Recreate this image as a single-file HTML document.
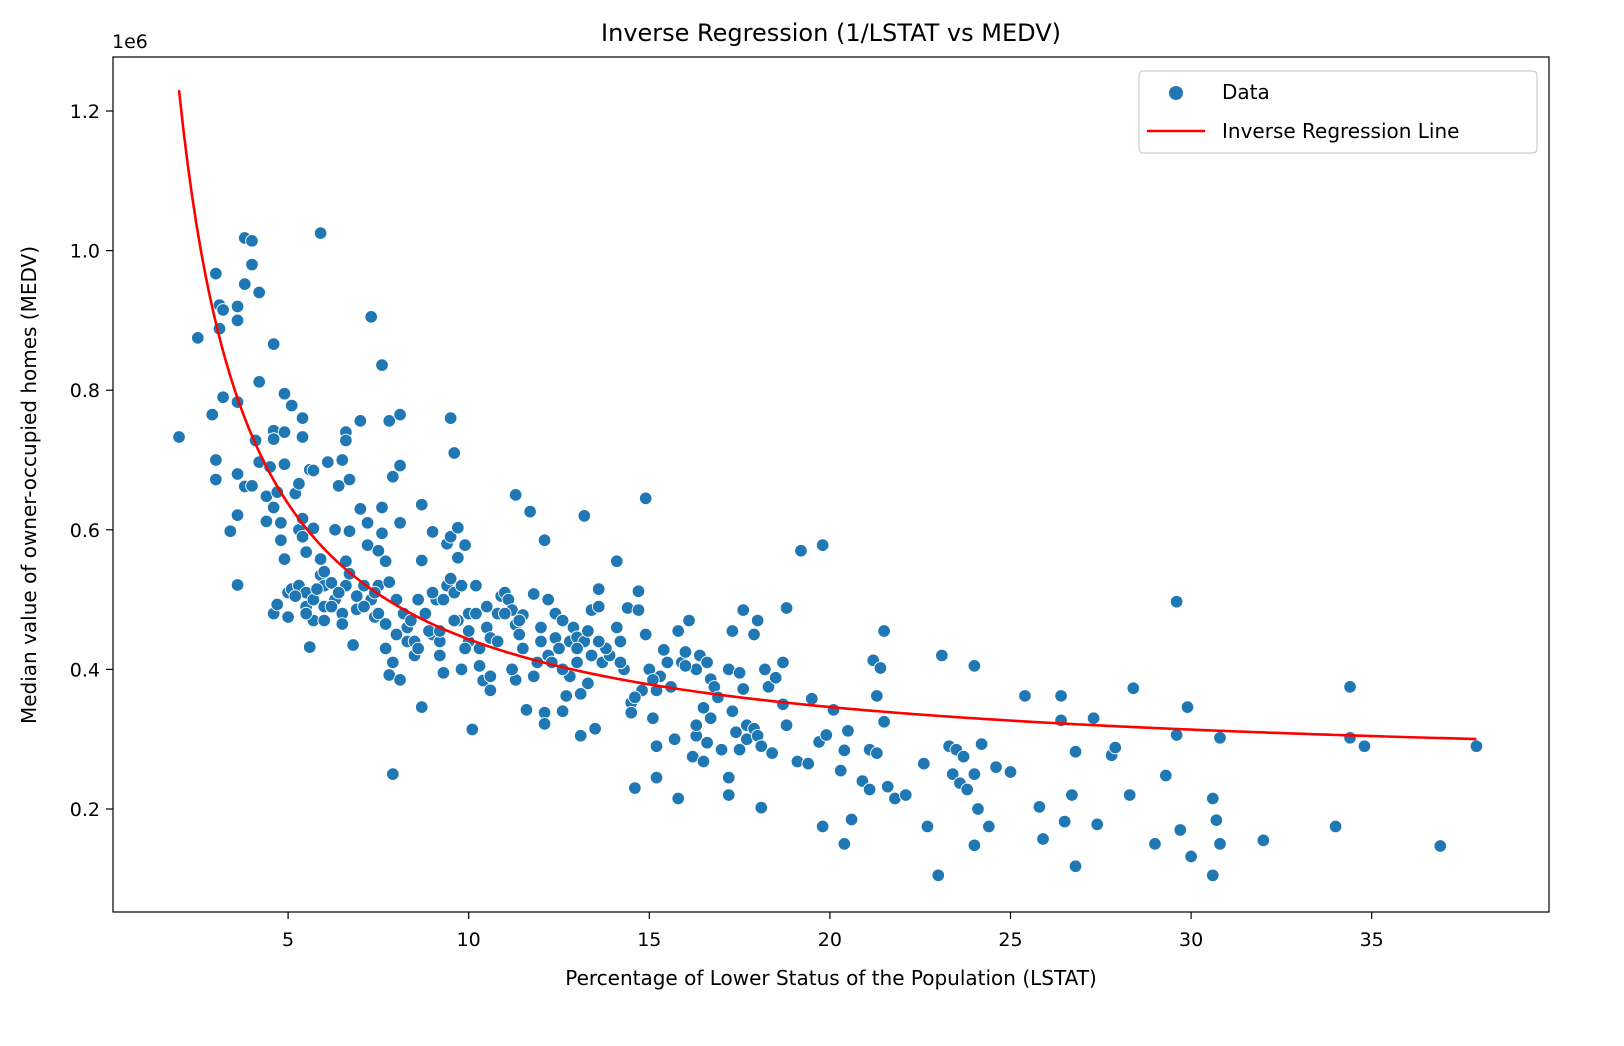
<!DOCTYPE html>
<html><head><meta charset="utf-8">
<style>
html,body{margin:0;padding:0;background:#fff;}
svg{display:block;font-family:"DejaVu Sans","Liberation Sans",sans-serif;}
</style></head>
<body>
<svg id="chart" width="1624" height="1046" viewBox="0 0 1624 1046">
<rect x="0" y="0" width="1624" height="1046" fill="#fff"/>
<text x="831" y="41" font-size="24" text-anchor="middle" fill="#000">Inverse Regression (1/LSTAT vs MEDV)</text>
<g id="points"></g>
<g id="line"></g>
<rect x="113" y="57" width="1436" height="855" fill="none" stroke="#000" stroke-width="1.2"/>
<g id="xaxis"></g>
<g id="yaxis"></g>
<text x="112" y="48" font-size="19" fill="#000">1e6</text>
<text x="831" y="985" font-size="20" text-anchor="middle" fill="#000">Percentage of Lower Status of the Population (LSTAT)</text>
<text transform="translate(36,485) rotate(-90)" font-size="20" text-anchor="middle" fill="#000">Median value of owner-occupied homes (MEDV)</text>
<g>
<rect x="1139" y="71" width="398" height="82" rx="4" fill="#fff" stroke="#ccc" stroke-width="1.2"/>
<circle cx="1176" cy="93" r="7" fill="#1f77b4"/>
<text x="1222" y="99" font-size="20" fill="#000">Data</text>
<line x1="1147" y1="131" x2="1205" y2="131" stroke="red" stroke-width="2.6"/>
<text x="1222" y="138" font-size="20" fill="#000">Inverse Regression Line</text>
</g>
</svg>
<script>
const xTicks=[5,10,15,20,25,30,35];
const yTicks=[0.2,0.4,0.6,0.8,1.0,1.2];
const yTickLabels=["0.2","0.4","0.6","0.8","1.0","1.2"];
const lineA=0.249;
const lineB=1.942;
const lineRange=[1.98,37.9];
const lstat=[1.98,2.5,2.9,3.0,3.0,3.0,3.1,3.1,3.2,3.2,3.4,3.6,3.6,3.6,3.6,3.6,3.6,3.8,3.8,3.8,4.0,4.0,4.0,4.1,4.2,4.2,4.2,4.4,4.4,4.5,4.6,4.6,4.6,4.6,4.6,4.7,4.7,4.8,4.8,4.9,4.9,4.9,4.9,5.0,5.0,5.1,5.1,5.2,5.3,5.3,5.3,5.4,5.4,5.4,5.4,5.5,5.5,5.5,5.6,5.6,5.7,5.7,5.7,5.7,5.9,5.9,5.9,6.0,6.0,6.0,6.1,6.2,6.3,6.3,6.4,6.5,6.5,6.5,6.6,6.6,6.6,6.6,6.7,6.7,6.7,6.8,6.9,7.0,7.0,7.1,7.2,7.2,7.3,7.3,7.4,7.5,7.5,7.6,7.6,7.6,7.7,7.7,7.7,7.8,7.8,7.8,7.9,7.9,7.9,8.0,8.1,8.1,8.1,8.1,8.2,8.3,8.3,8.5,8.5,8.6,8.7,8.7,8.7,8.8,9.0,9.0,9.1,9.2,9.2,9.3,9.4,9.4,9.5,9.5,9.5,9.6,9.6,9.7,9.7,9.7,9.8,9.8,9.9,10.0,10.0,10.1,10.2,10.3,10.3,10.4,10.5,10.5,10.6,10.6,10.6,10.8,10.9,11.0,11.1,11.2,11.3,11.3,11.3,11.4,11.5,11.5,11.6,11.7,11.8,11.8,12.0,12.0,12.1,12.1,12.1,12.2,12.2,12.4,12.4,12.6,12.6,12.7,12.8,12.8,12.9,13.0,13.0,13.1,13.1,13.2,13.2,13.3,13.4,13.4,13.5,13.6,13.6,13.7,13.9,14.1,14.1,14.2,14.3,14.4,14.5,14.5,14.6,14.7,14.7,14.8,14.9,14.9,15.0,15.1,15.2,15.2,15.2,15.3,15.4,15.6,15.7,15.8,15.8,15.9,16.0,16.1,16.2,16.3,16.3,16.3,16.4,16.5,16.5,16.6,16.7,16.7,16.8,16.9,17.0,17.2,17.2,17.2,17.3,17.3,17.4,17.5,17.5,17.6,17.6,17.7,17.7,17.9,17.9,18.0,18.0,18.1,18.1,18.2,18.3,18.4,18.5,18.7,18.7,18.8,18.8,19.1,19.2,19.4,19.5,19.7,19.8,19.8,19.9,20.1,20.3,20.4,20.4,20.5,20.6,20.9,21.1,21.1,21.2,21.3,21.3,21.4,21.5,21.5,21.6,21.8,22.1,22.6,22.7,23.0,23.1,23.3,23.4,23.5,23.6,23.7,23.8,24.0,24.0,24.0,24.1,24.2,24.4,24.6,25.0,25.4,25.8,25.9,26.4,26.4,26.5,26.7,26.8,26.8,27.3,27.4,27.8,27.9,28.3,28.4,29.0,29.3,29.6,29.6,29.7,29.9,30.0,30.6,30.6,30.7,30.8,30.8,32.0,34.0,34.4,34.4,34.8,36.9,37.9,5.2,5.8,6.2,6.9,7.1,7.4,8.0,8.4,8.9,9.0,9.3,9.6,9.9,10.2,10.8,11.0,11.4,11.9,12.3,12.6,13.0,13.3,13.8,14.2,14.6,15.1,15.5,16.0,16.6,10.0,9.2,8.6,7.5,6.4,6.0,5.5,11.2,12.5,13.6];
const medv=[733,875,765,700,672,967,922,888,915,790,598,900,920,783,680,621,521,1018,952,662,1014,980,663,728,940,697,812,648,612,690,866,742,730,632,480,654,493,610,585,795,740,694,558,475,510,778,515,652,666,600,520,760,733,616,590,490,568,510,686,432,685,602,500,470,1025,535,558,520,490,470,697,524,600,500,663,700,480,465,740,728,555,520,672,598,537,435,486,756,630,520,578,610,905,500,475,570,520,836,632,595,555,465,430,756,525,392,676,410,250,450,765,692,610,385,480,460,440,440,420,500,636,346,556,480,597,450,500,420,440,395,520,580,760,590,530,710,510,603,560,470,520,400,578,480,440,314,520,430,405,384,460,490,370,445,390,480,505,510,500,485,650,464,385,450,430,478,342,626,508,390,460,440,338,585,322,500,420,445,480,470,340,362,440,390,460,410,446,305,365,620,440,455,485,420,315,515,490,410,420,555,460,440,400,488,352,338,230,512,485,370,645,450,400,330,290,245,370,390,428,375,300,215,455,410,425,470,275,305,320,400,420,345,268,295,386,330,375,360,285,400,245,220,455,340,310,285,395,485,372,300,320,315,450,470,305,290,202,400,375,280,388,410,350,488,320,268,570,265,358,296,578,175,306,342,255,150,284,312,185,240,228,285,413,362,280,402,455,325,232,215,220,265,175,105,420,290,250,285,237,275,228,405,250,148,200,293,175,260,253,362,203,157,362,327,182,220,118,282,330,178,277,288,220,373,150,248,497,306,170,346,132,105,215,184,150,302,155,175,375,302,290,147,290,505,515,490,505,490,510,500,470,455,510,500,470,430,480,440,480,470,410,410,400,430,380,430,410,360,385,410,405,410,455,455,430,480,510,540,480,400,430,440];

const NS='http://www.w3.org/2000/svg';
function xScale(v){return 107.5+v*36.12;}
function yScale(v){return 809-(v-0.2)*698;}

const pg=document.getElementById('points');
for(let i=0;i<lstat.length;i++){
  const c=document.createElementNS(NS,'circle');
  c.setAttribute('cx',xScale(lstat[i]));
  c.setAttribute('cy',yScale(medv[i]/1000));
  c.setAttribute('r',6.3);
  c.setAttribute('fill','#1f77b4');
  c.setAttribute('stroke','#fff');
  c.setAttribute('stroke-width',0.9);
  
  
  pg.appendChild(c);
}

const lg=document.getElementById('line');
let d='';
for(let k=0;k<=300;k++){
  const x=lineRange[0]+(lineRange[1]-lineRange[0])*k/300;
  const y=lineA+lineB/x;
  d+=(k?'L':'M')+xScale(x).toFixed(2)+','+yScale(y).toFixed(2);
}
const p=document.createElementNS(NS,'path');
p.setAttribute('d',d);
p.setAttribute('fill','none');
p.setAttribute('stroke','red');
p.setAttribute('stroke-width',2.6);


lg.appendChild(p);

const xa=document.getElementById('xaxis');
xTicks.forEach(t=>{
  const x=xScale(t);
  const l=document.createElementNS(NS,'line');
  l.setAttribute('x1',x);l.setAttribute('x2',x);l.setAttribute('y1',912);l.setAttribute('y2',919);
  l.setAttribute('stroke','#000');l.setAttribute('stroke-width',1.2);
  
  
  xa.appendChild(l);
  const tx=document.createElementNS(NS,'text');
  tx.setAttribute('x',x);tx.setAttribute('y',946);
  tx.setAttribute('font-size','19');tx.setAttribute('text-anchor','middle');
  tx.textContent=t;
  
  
  xa.appendChild(tx);
});
const ya=document.getElementById('yaxis');
yTicks.forEach((t,i)=>{
  const y=yScale(t);
  const l=document.createElementNS(NS,'line');
  l.setAttribute('x1',106);l.setAttribute('x2',113);l.setAttribute('y1',y);l.setAttribute('y2',y);
  l.setAttribute('stroke','#000');l.setAttribute('stroke-width',1.2);
  
  
  ya.appendChild(l);
  const tx=document.createElementNS(NS,'text');
  tx.setAttribute('x',100);tx.setAttribute('y',y+7);
  tx.setAttribute('font-size','19');tx.setAttribute('text-anchor','end');
  tx.textContent=yTickLabels[i];
  
  
  ya.appendChild(tx);
});
</script>
</body></html>
